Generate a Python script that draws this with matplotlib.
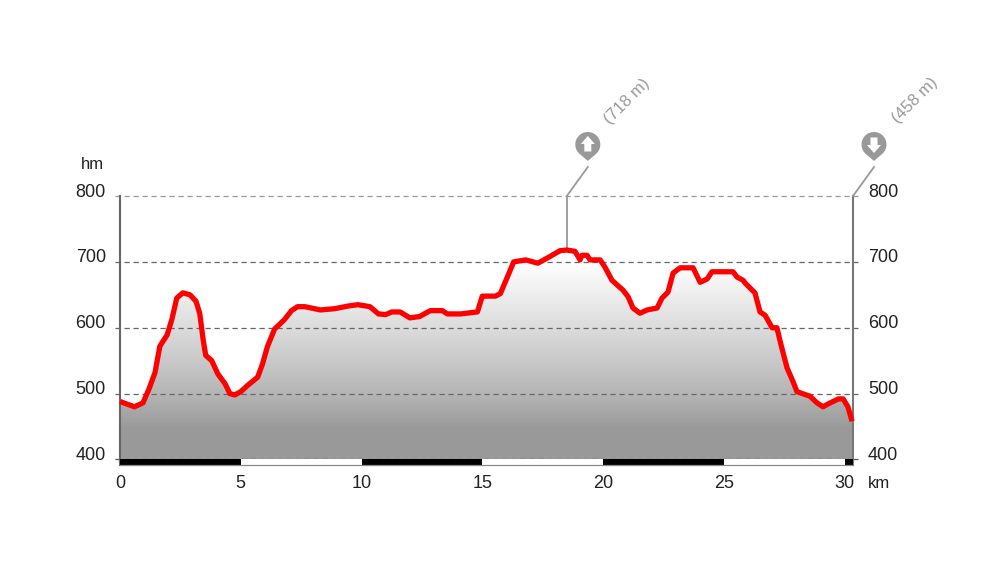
import numpy as np
import matplotlib
matplotlib.use("Agg")
import matplotlib.pyplot as plt
from matplotlib.colors import LinearSegmentedColormap
from matplotlib.patches import PathPatch, Rectangle
from matplotlib.path import Path
from matplotlib.transforms import Affine2D

plt.rcParams['font.family'] = ['Liberation Sans', 'DejaVu Sans']

km = [0, .3, .6, .95, 1.2, 1.45, 1.65, 1.95, 2.15, 2.35, 2.6, 2.9, 3.15, 3.3, 3.45, 3.55, 3.8, 4.05,
      4.35, 4.55, 4.75, 5.0, 5.3, 5.7, 5.9, 6.1, 6.4, 6.8, 7.1, 7.35, 7.65, 8.3, 8.9, 9.45, 9.85,
      10.35, 10.7, 11.0, 11.25, 11.6, 12.0, 12.4, 12.85, 13.35, 13.55, 14.1, 14.8, 15.0, 15.55,
      15.75, 16.05, 16.3, 16.8, 17.3, 17.7, 18.22, 18.5, 18.84, 19.05, 19.13, 19.34, 19.46, 19.88,
      20.08, 20.37, 20.83, 21.04, 21.24, 21.53, 21.82, 22.24, 22.44, 22.69, 22.9, 23.19, 23.73,
      24.02, 24.31, 24.51, 25.38, 25.55, 25.8, 25.88, 26.29, 26.5, 26.71, 27.0, 27.2, 27.37,
      27.62, 27.87, 28.03, 28.57, 28.86, 29.11, 29.3, 29.52, 29.75, 29.94, 30.14, 30.31]
elev = [488, 484, 480, 486, 507, 532, 572, 589, 613, 645, 653, 650, 640, 622, 580, 558, 550, 530,
        515, 500, 498, 503, 513, 525, 545, 571, 598, 612, 626, 632, 632, 627, 629, 633, 635,
        632, 621, 620, 624, 624, 615, 617, 626, 626, 621, 621, 624, 648, 648,
        652, 678, 700, 703, 698, 706, 717, 718, 716, 703, 710, 710, 703, 703,
        692, 672, 657, 647, 630, 622, 627, 630, 645, 654, 683, 691, 691,
        669, 674, 685, 685, 677, 672, 668, 653, 624, 619, 600, 600, 574,
        539, 518, 503, 496, 486, 480, 484, 488, 492, 492, 480, 458]
y_ticks = [400, 500, 600, 700, 800]
x_ticks = [0, 5, 10, 15, 20, 25, 30]
x_end = 30.35
y_base = 391.65
grad_levels = [700, 600, 500, 445]
grad_colors = ["#ffffff", "#dcdcdc", "#b5b5b5", "#999999"]
grid_colors = ["#555555", "#666666", "#666666", "#666666", "#999999"]
max_label = "(718 m)"
min_label = "(458 m)"
max_km = 18.5

W, H = 1000, 584
fig = plt.figure(figsize=(W / 100, H / 100), dpi=100)
ax = fig.add_axes([120 / W, 1 - 465 / H, (853 - 120) / W, (465 - 196) / H])
ax.set_xlim(0, x_end)
ax.set_ylim(y_base, 800)
ax.axis("off")

# gradient fill under the profile
pos = [(grad_levels[0] - g) / (grad_levels[0] - grad_levels[-1]) for g in grad_levels]
cmap = LinearSegmentedColormap.from_list("g", list(zip(pos, grad_colors)))
grad = np.linspace(0, 1, 256)[:, None]
im = ax.imshow(grad, cmap=cmap, aspect="auto", zorder=1,
               extent=(0, x_end, grad_levels[-1], grad_levels[0]), origin="upper")
im2 = ax.fill_between([0, x_end], 400, grad_levels[-1], color="#999999", lw=0, zorder=1)
im3 = ax.fill_between([0, x_end], grad_levels[0], 800, color="#ffffff", lw=0, zorder=1)
poly = ax.fill_between(km + [x_end], elev + [elev[-1]], 400, color="none", lw=0)
clip = PathPatch(poly.get_paths()[0], transform=ax.transData, fc="none", ec="none")
ax.add_patch(clip)
im.set_clip_path(clip)
im2.set_clip_path(clip)
im3.set_clip_path(clip)
ax.set_xlim(0, x_end)
ax.set_ylim(y_base, 800)

# dashed grid lines, running slightly past both axes
for v, c in zip(y_ticks, grid_colors):
    ax.plot([-0.2, x_end + 0.2], [v, v], color=c, lw=0.9, dashes=(4.2, 3.0),
            clip_on=False, zorder=2)

# axes lines
ax.plot([0, 0], [y_base, 800], color="#666666", lw=1.5, clip_on=False, zorder=3)
ax.plot([x_end, x_end], [y_base, 800], color="#777777", lw=1.5, clip_on=False, zorder=3)

# distance scale bar
edges = x_ticks + [x_end]
for i in range(len(edges) - 1):
    ax.add_patch(Rectangle((edges[i], y_base), edges[i + 1] - edges[i], 400 - y_base,
                           fc="#000000" if i % 2 == 0 else "#ffffff", ec="none", zorder=3, clip_on=False))
ax.plot([0, x_end], [y_base, y_base], color="#888888", lw=0.9, clip_on=False, zorder=3)

# profile
ax.plot(km, elev, color="#ff0000", lw=3.8, solid_joinstyle="round", solid_capstyle="butt",
        zorder=5, clip_on=False)

# axis labels
fs = 13
for v in y_ticks:
    ax.annotate(str(v), (0, v), xytext=(-14, 4), textcoords="offset pixels", ha="right", va="center",
                fontsize=fs, color="#222222", annotation_clip=False)
    ax.annotate(str(v), (x_end, v), xytext=(15, 4), textcoords="offset pixels", ha="left", va="center",
                fontsize=fs, color="#222222", annotation_clip=False)
for v in x_ticks:
    ax.annotate(str(v), (v, y_base), xytext=(0, -18), textcoords="offset pixels", ha="center", va="center",
                fontsize=fs, color="#222222", annotation_clip=False)
ax.annotate("km", (x_end, y_base), xytext=(15, -18), textcoords="offset pixels", ha="left", va="center",
            fontsize=12, color="#222222", annotation_clip=False)
ax.annotate("hm", (0, 800), xytext=(-16, 32), textcoords="offset pixels", ha="right", va="center",
            fontsize=12, color="#222222", annotation_clip=False)


def anchored(x, y):
    px, py = ax.transData.transform((x, y))
    return Affine2D().translate(px, py)


def pin(x, y, up):
    t = anchored(x, y)
    # leader line
    ax.plot([0, 21], [0, 29], color="#999999", lw=1.3, transform=t, clip_on=False, zorder=4)
    # pin body
    th = np.radians(np.linspace(-45, 225, 60))
    cx, cy, r = 21, 51.5, 12.5
    pts = [(cx + r * np.cos(a), cy + r * np.sin(a)) for a in th] + [(cx, cy - 16.5)]
    ax.add_patch(PathPatch(Path(pts + [pts[0]], closed=True), fc="#999999", ec="none",
                           transform=t, clip_on=False, zorder=4))
    s = 1 if up else -1
    arrow = [(0, 8.5), (7, 0.5), (3.5, 0.5), (3.5, -7), (-3.5, -7), (-3.5, 0.5), (-7, 0.5), (0, 8.5)]
    ax.add_patch(PathPatch(Path([(cx + a, cy + s * b) for a, b in arrow], closed=True), fc="#ffffff",
                           ec="none", transform=t, clip_on=False, zorder=4))


pin(max_km, 800, True)
pin(x_end, 800, False)
ax.plot([max_km, max_km], [elev[km.index(max_km)], 800], color="#999999", lw=1.3, zorder=4)

ax.annotate(max_label, (max_km, 800), xytext=(60, 95), textcoords="offset pixels", rotation=45,
            ha="center", va="center", fontsize=12, color="#999999", annotation_clip=False)
ax.annotate(min_label, (x_end, 800), xytext=(62, 96), textcoords="offset pixels", rotation=45,
            ha="center", va="center", fontsize=12, color="#999999", annotation_clip=False)

fig.savefig("out.png", dpi=100)
